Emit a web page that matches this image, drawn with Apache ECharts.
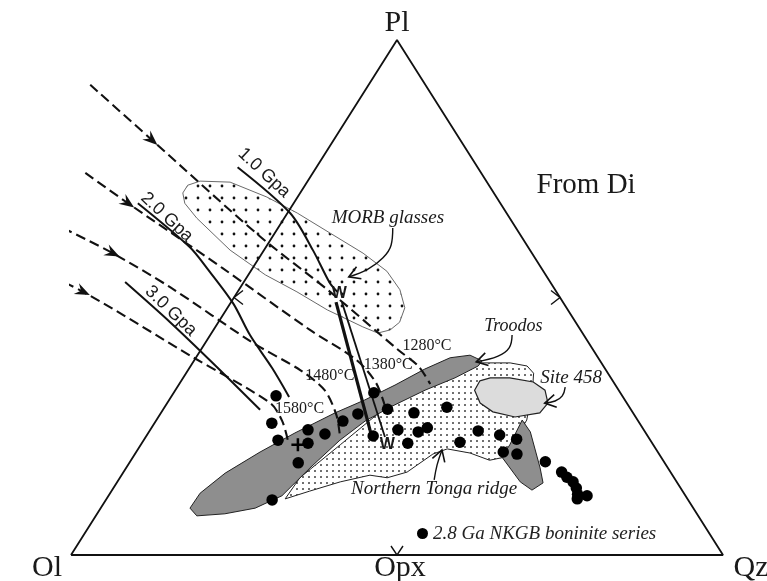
<!DOCTYPE html>
<html>
<head>
<meta charset="utf-8">
<script src="https://cdn.jsdelivr.net/npm/echarts@6/dist/echarts.min.js"></script>
<style>
html,body{margin:0;padding:0;background:#fff}
#chart{width:767px;height:581px}
</style>
</head>
<body>
<div id="chart"></div>
<script>
// Compositions are [Qz, Pl] in percent of the Ol–Pl–Qz triangle (Ol = 100 - Qz - Pl).
// Paths that start outside the triangle carry negative Qz.

const sideMarks = [[0, 50], [50, 50], [50, 0]];

// 2.8 Ga NKGB boninite series
const nkgbBoninites = [
  [16.0, 30.9], [18.0, 25.6], [20.6, 22.3], [24.2, 24.3], [25.5, 21.7], [27.2, 23.5],
  [25.9, 17.9], [25.5, 10.7], [28.7, 26.0], [30.3, 27.4], [30.7, 31.5], [34.4, 28.3],
  [34.8, 23.1], [38.0, 24.3], [40.8, 21.7], [38.8, 27.6], [41.3, 23.9], [42.3, 24.7],
  [43.3, 28.7], [48.7, 21.9], [50.4, 24.1], [54.1, 23.3], [57.1, 22.5], [56.3, 20.0],
  [58.6, 19.6], [63.7, 18.1], [67.2, 16.1], [68.5, 15.1], [69.9, 14.2], [71.0, 13.0],
  [71.8, 11.8], [72.2, 10.9], [73.4, 11.5]
];
const crossPoint = [[24.1, 21.4]];

// Compositional fields
const morbGlasses = [
  [-18.0, 70.3], [-18.0, 71.8], [-16.5, 72.6], [-11.8, 72.4], [-4.7, 69.5], [1.5, 66.4],
  [8.5, 62.5], [15.5, 58.6], [20.9, 55.1], [24.7, 51.5], [27.2, 48.0], [27.8, 45.2],
  [27.1, 43.7], [25.5, 43.1], [22.6, 44.3], [15.5, 47.6], [9.1, 51.1], [2.6, 54.4],
  [-5.2, 59.2], [-13.4, 65.4], [-16.7, 68.3]
];
const tongaRidge = [
  [27.4, 10.9], [27.6, 15.0], [30.6, 21.4], [34.4, 29.7], [39.6, 34.0], [42.6, 37.3],
  [48.7, 37.3], [51.6, 36.7], [53.3, 35.3], [54.6, 32.4], [56.8, 26.2], [57.0, 19.0],
  [55.0, 18.4], [51.3, 19.8], [47.4, 20.6], [45.7, 19.6], [43.5, 16.1], [41.0, 15.0],
  [38.1, 15.5], [34.2, 14.2], [30.4, 12.4]
];
const troodos = [
  [13.7, 9.1], [13.8, 12.0], [15.7, 15.9], [19.0, 20.0], [22.5, 23.7], [26.7, 27.6],
  [30.0, 30.1], [33.2, 33.0], [36.2, 36.1], [39.0, 38.3], [41.8, 38.8], [44.2, 37.7],
  [44.1, 36.7], [41.7, 34.4], [38.3, 32.0], [34.8, 28.9], [32.1, 26.0], [30.1, 22.3],
  [28.2, 16.9], [26.6, 11.5], [23.7, 9.1], [19.6, 8.0], [15.5, 7.6]
];
const troodosTail = [
  [56.1, 26.2], [58.5, 23.9], [63.5, 16.9], [65.4, 14.0], [64.4, 12.6], [61.8, 14.2],
  [56.6, 19.0], [56.6, 21.4]
];
const site458 = [
  [45.8, 33.8], [47.1, 34.4], [50.1, 34.4], [54.1, 33.6], [56.7, 32.0], [58.4, 29.5],
  [58.1, 27.6], [54.7, 26.8], [50.8, 27.8], [48.0, 29.5], [45.9, 32.0]
];

// Isobars
const isobar10 = [[-12.1, 75.3], [0.4, 66.4], [7.5, 59.2], [13.3, 52.8], [15.3, 51.1]];
const isobar20 = [[-23.9, 68.3], [-11.7, 59.8], [-7.0, 55.7], [0.4, 48.9], [6.1, 42.7], [12.7, 36.3], [18.1, 30.7]];
const isobar30 = [[-18.2, 53.0], [-7.4, 45.2], [3.6, 36.9], [14.9, 28.2]];

// Melting paths ending at their temperatures
const melt1280 = [[-42.7, 91.3], [-27.9, 80.6], [-2.0, 61.9], [14.2, 51.1], [30.3, 39.8], [34.9, 36.7], [38.5, 33.2]];
const melt1380 = [[-34.9, 74.2], [-25.4, 68.3], [-4.6, 55.7], [14.8, 43.7], [24.8, 37.9], [30.1, 33.4], [34.0, 28.5]];
const melt1480 = [[-33.0, 63.5], [-22.9, 58.6], [-10.8, 52.0], [7.3, 41.2], [17.2, 35.9], [22.9, 32.0], [27.1, 27.2], [29.7, 23.1]];
const melt1580 = [[-38.3, 57.9], [-23.7, 51.1], [-0.5, 38.4], [15.8, 29.5], [19.4, 26.0], [22.1, 22.3]];

// W trend
const wTrendA = [[16.1, 49.1], [34.7, 22.9]];
const wTrendB = [[17.0, 49.1], [36.7, 22.9]];

// Pointer arrows (tail to tip)
const arrowMorb = [[17.6, 63.5], [19.0, 60.2], [19.0, 57.7], [17.8, 55.5], [15.6, 54.0]];
const arrowTroodos = [[46.3, 42.7], [47.1, 40.2], [46.2, 38.6], [43.4, 37.5]];
const arrowSite = [[59.5, 32.6], [59.9, 30.9], [59.3, 29.9], [57.9, 29.5]];
const arrowTonga = [[48.4, 14.6], [47.4, 17.5], [46.7, 20.4]];

// Text anchors
const noteText = ['MORB glasses', 'Troodos', 'Site 458', 'Northern Tonga ridge',
  '1280°C', '1380°C', '1480°C', '1580°C', 'W', 'W', '1.0 Gpa', '2.0 Gpa', '3.0 Gpa', 'From Di'];
const noteAt = [[15.9, 65.4], [45.6, 44.5], [59.5, 34.4], [49.3, 12.8],
  [34.3, 40.6], [30.2, 36.9], [22.3, 34.8], [20.9, 28.3], [15.8, 50.7], [37.8, 21.4],
  [-7.5, 74.2], [-18.1, 65.6], [-8.4, 47.4], [43.1, 71.8]];
const apexNames = ['Ol', 'Pl', 'Qz', 'Opx'];
const apexAt = [[0, 0], [0, 100], [100, 0], [50, 0]];

// ---------------------------------------------------------------
const serif = '"Liberation Serif", "Times New Roman", serif';
const sans = '"Liberation Sans", Arial, sans-serif';
const ink = '#111111';

const noteStyle = [
  ['italic', 19, serif, 0], ['italic', 18, serif, 0], ['italic', 19, serif, 0], ['italic', 19, serif, 0],
  ['normal', 16, serif, 0], ['normal', 16, serif, 0], ['normal', 16, serif, 0], ['normal', 16, serif, 0],
  ['bold', 16, sans, 0], ['bold', 16, sans, 0],
  ['normal', 18, sans, -43], ['normal', 18, sans, -43], ['normal', 18, sans, -44], ['normal', 29, serif, 0]
];
const apexOffset = [[-24, 13], [0, -17], [28, 13], [3, 13]];

const toXY = p => [p[0] + p[1] / 2, p[1]];

function dotPattern(size, r, color) {
  const c = document.createElement('canvas');
  c.width = c.height = size;
  const g = c.getContext('2d');
  g.fillStyle = color;
  g.beginPath();
  g.arc(size / 2, size / 2, r, 0, Math.PI * 2);
  g.fill();
  return { type: 'pattern', image: c, repeat: 'repeat' };
}

function field(name, pts, style, z) {
  return {
    type: 'custom', name, coordinateSystem: 'cartesian2d', z, silent: true, clip: false,
    data: [[0, 0]],
    renderItem: (params, api) => ({
      type: 'polygon',
      shape: { points: pts.map(p => api.coord(toXY(p))) },
      style
    })
  };
}

function path(name, pts, lineStyle, smooth, z) {
  return {
    type: 'line', name, data: pts.map(toXY), showSymbol: false, symbol: 'none',
    smooth: smooth, clip: false, silent: true, z, lineStyle
  };
}

function unit(a, b) {
  const dx = b[0] - a[0], dy = b[1] - a[1], L = Math.hypot(dx, dy) || 1;
  return [dx / L, dy / L];
}

const dashedStyle = { color: ink, width: 2.1, type: [10, 5] };
const solidStyle = { color: ink, width: 2 };
const pointerStyle = { color: ink, width: 1.4 };

const meltPaths = [melt1280, melt1380, melt1480, melt1580];
const pointers = [arrowMorb, arrowTroodos, arrowSite, arrowTonga];

const option = {
  animation: false,
  backgroundColor: '#ffffff',
  grid: { left: 71, right: 44, top: 40, bottom: 26 },
  xAxis: { type: 'value', min: 0, max: 100, show: false },
  yAxis: { type: 'value', min: 0, max: 100, show: false },
  legend: {
    data: [{ name: '2.8 Ga NKGB boninite series', icon: 'circle' }],
    left: 417, top: 524, padding: 0, itemWidth: 11, itemHeight: 11,
    selectedMode: false,
    itemStyle: { opacity: 1 },
    textStyle: { fontFamily: serif, fontStyle: 'italic', fontSize: 19, color: '#222', lineHeight: 19 }
  },
  series: [
    field('Northern Tonga ridge', tongaRidge, { fill: dotPattern(6, 0.95, '#333'), stroke: '#222', lineWidth: 1 }, 1),
    field('Troodos', troodos, { fill: '#8e8e8e', stroke: '#222', lineWidth: 1 }, 2),
    field('Troodos tail', troodosTail, { fill: '#8e8e8e', stroke: '#222', lineWidth: 1 }, 2),
    field('Site 458', site458, { fill: '#dcdcdc', stroke: '#222', lineWidth: 1.2 }, 3),
    field('MORB glasses', morbGlasses, { fill: dotPattern(12, 1.4, '#111'), stroke: '#6a6a6a', lineWidth: 1 }, 3),

    path('triangle', [[0, 0], [0, 100], [100, 0], [0, 0]], { color: ink, width: 1.8 }, false, 4),

    path('1.0 Gpa', isobar10, solidStyle, 0.3, 5),
    path('2.0 Gpa', isobar20, solidStyle, 0.3, 5),
    path('3.0 Gpa', isobar30, solidStyle, 0.3, 5),
    path('1280', melt1280, dashedStyle, 0.3, 5),
    path('1380', melt1380, dashedStyle, 0.3, 5),
    path('1480', melt1480, dashedStyle, 0.3, 5),
    path('1580', melt1580, dashedStyle, 0.3, 5),
    path('W trend A', wTrendA, { color: ink, width: 3.2 }, false, 5),
    path('W trend B', wTrendB, { color: ink, width: 1.8 }, false, 5),
    path('pointer MORB', arrowMorb, pointerStyle, 0.4, 5),
    path('pointer Troodos', arrowTroodos, pointerStyle, 0.4, 5),
    path('pointer Site', arrowSite, pointerStyle, 0.4, 5),
    path('pointer Tonga', arrowTonga, pointerStyle, 0.4, 5),

    // arrowheads, side marks
    {
      type: 'custom', name: 'heads', coordinateSystem: 'cartesian2d', z: 6, silent: true, clip: false,
      data: [[0, 0]],
      renderItem: (params, api) => {
        const children = [];
        meltPaths.forEach(p => {
          const a = api.coord(toXY(p[0])), b = api.coord(toXY(p[1]));
          const u = unit(a, b), n = [-u[1], u[0]];
          const len = 15, half = 6;
          const tip = [b[0] + u[0] * len * 0.5, b[1] + u[1] * len * 0.5];
          const base = [b[0] - u[0] * len * 0.5, b[1] - u[1] * len * 0.5];
          const notch = [b[0] - u[0] * len * 0.15, b[1] - u[1] * len * 0.15];
          children.push({
            type: 'polygon',
            shape: { points: [tip, [base[0] + n[0] * half, base[1] + n[1] * half], notch, [base[0] - n[0] * half, base[1] - n[1] * half]] },
            style: { fill: ink }
          });
        });
        pointers.forEach(p => {
          const a = api.coord(toXY(p[p.length - 2])), b = api.coord(toXY(p[p.length - 1]));
          const u = unit(a, b), n = [-u[1], u[0]];
          const len = 11, half = 6.5;
          children.push({
            type: 'polyline',
            shape: { points: [[b[0] - u[0] * len + n[0] * half, b[1] - u[1] * len + n[1] * half], b, [b[0] - u[0] * len - n[0] * half, b[1] - u[1] * len - n[1] * half]] },
            style: { stroke: ink, lineWidth: 1.6, fill: 'none' }
          });
        });
        const arms = [[[9, -7], [9, 7]], [[-9, -7], [-9, 7]], [[-6, -9], [6, -9]]];
        sideMarks.forEach((m, i) => {
          const c = api.coord(toXY(m));
          children.push({
            type: 'polyline',
            shape: { points: [[c[0] + arms[i][0][0], c[1] + arms[i][0][1]], c, [c[0] + arms[i][1][0], c[1] + arms[i][1][1]]] },
            style: { stroke: ink, lineWidth: 1.4, fill: 'none' }
          });
        });
        return { type: 'group', children };
      }
    },

    {
      type: 'scatter', name: '2.8 Ga NKGB boninite series', data: nkgbBoninites.map(toXY),
      symbol: 'circle', symbolSize: 11.5, itemStyle: { color: '#000', opacity: 1 }, z: 7, silent: true, clip: false
    },
    {
      type: 'scatter', name: 'cross', data: crossPoint.map(toXY),
      symbol: 'path://M5,0 L7.4,0 L7.4,5 L12.4,5 L12.4,7.4 L7.4,7.4 L7.4,12.4 L5,12.4 L5,7.4 L0,7.4 L0,5 L5,5 Z',
      symbolSize: 13, itemStyle: { color: '#000', opacity: 1 }, z: 7, silent: true, clip: false
    },

    // text
    {
      type: 'custom', name: 'notes', coordinateSystem: 'cartesian2d', z: 8, silent: true, clip: false,
      data: [[0, 0]],
      renderItem: (params, api) => {
        const children = [];
        noteText.forEach((t, i) => {
          const p = api.coord(toXY(noteAt[i]));
          const s = noteStyle[i];
          const weight = s[0] === 'bold' ? 'bold ' : '';
          const style = s[0] === 'italic' ? 'italic ' : '';
          children.push({
            type: 'text', x: p[0], y: p[1], rotation: s[3] * Math.PI / 180,
            style: { text: t, font: style + weight + s[1] + 'px ' + s[2], fill: '#1a1a1a', align: 'center', verticalAlign: 'middle' }
          });
        });
        apexNames.forEach((t, i) => {
          const p = api.coord(toXY(apexAt[i]));
          children.push({
            type: 'text', x: p[0] + apexOffset[i][0], y: p[1] + apexOffset[i][1],
            style: { text: t, font: '30px ' + serif, fill: '#1a1a1a', align: 'center', verticalAlign: 'middle' }
          });
        });
        return { type: 'group', children };
      }
    }
  ]
};

const chart = echarts.init(document.getElementById('chart'));
chart.setOption(option);
</script>
</body>
</html>
